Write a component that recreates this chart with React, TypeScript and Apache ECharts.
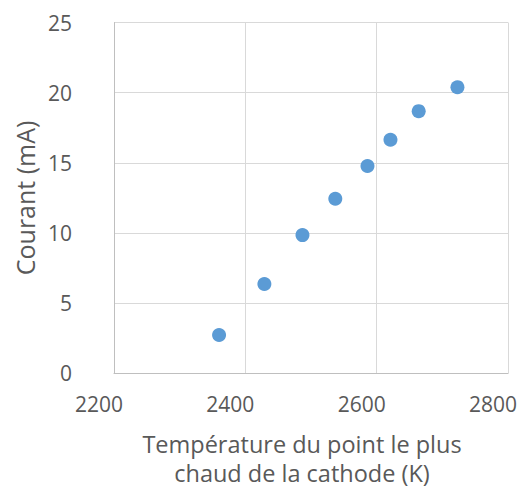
import React, { useEffect, useRef } from "react";
import * as echarts from "echarts";

const temperatures = [2360, 2429, 2487, 2537, 2586, 2621, 2664, 2723];
const currents = [2.73, 6.36, 9.85, 12.44, 14.77, 16.64, 18.68, 20.39];
const xTicks = { min: 2200, max: 2800, interval: 200 };
const yTicks = { min: 0, max: 25, interval: 5 };
const xTitle = "Température du point le plus\nchaud de la cathode (K)";
const yTitle = "Courant (mA)";

export default function App() {
  const ref = useRef<HTMLDivElement>(null);
  useEffect(() => {
    if (!ref.current) return;
    const chart = echarts.init(ref.current, null, { renderer: "svg" });
    const font = "'Open Sans', 'Noto Sans', sans-serif";
    const gray = "#595959";
    chart.setOption({
      animation: false,
      backgroundColor: "#ffffff",
      grid: {
        left: 114,
        right: 10,
        top: 22.5,
        bottom: 114.7,
        containLabel: false,
        outerBoundsMode: "none",
      },
      xAxis: {
        type: "value",
        min: xTicks.min,
        max: xTicks.max,
        interval: xTicks.interval,
        axisLine: { show: true, lineStyle: { color: "#bfbfbf", width: 1 } },
        axisTick: { show: false },
        splitLine: { show: true, lineStyle: { color: "#d9d9d9", width: 1 } },
        axisLabel: {
          color: gray,
          fontFamily: font,
          fontSize: 21,
          margin: 20,
          padding: [0, 30, 0, 0],
          formatter: (v: number) => String(v),
        },
        name: xTitle,
        nameLocation: "middle",
        nameGap: 56,
        nameTextStyle: {
          color: gray,
          fontFamily: font,
          fontSize: 23.5,
          lineHeight: 29,
          padding: [0, 18, 0, 0],
        },
      },
      yAxis: {
        type: "value",
        min: yTicks.min,
        max: yTicks.max,
        interval: yTicks.interval,
        axisLine: { show: true, lineStyle: { color: "#bfbfbf", width: 1 } },
        axisTick: { show: false },
        splitLine: { show: true, lineStyle: { color: "#d9d9d9", width: 1 } },
        axisLabel: {
          color: gray,
          fontFamily: font,
          fontSize: 21,
          margin: 42,
        },
        name: yTitle,
        nameLocation: "middle",
        nameGap: 77,
        nameRotate: 90,
        nameTextStyle: { color: gray, fontFamily: font, fontSize: 25 },
      },
      series: [
        {
          type: "scatter",
          data: temperatures.map((t, i) => [t, currents[i]]),
          symbol: "circle",
          symbolSize: 14,
          itemStyle: { color: "#5B9BD5", opacity: 1 },
        },
      ],
    });
    return () => chart.dispose();
  }, []);
  return (
    <div
      ref={ref}
      style={{ position: "fixed", left: 0, top: 0, width: 518, height: 488 }}
    />
  );
}
